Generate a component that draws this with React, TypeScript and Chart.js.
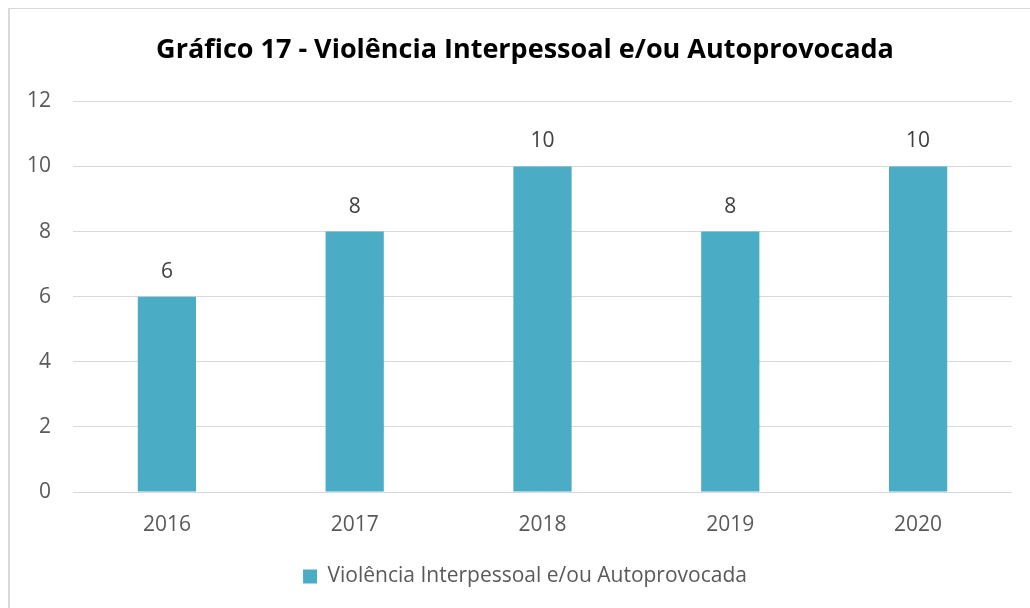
import React, { useEffect, useRef } from "react";
import { Chart, registerables } from "chart.js";

Chart.register(...registerables);

const categories = ["2016", "2017", "2018", "2019", "2020"];
const seriesName = "Violência Interpessoal e/ou Autoprovocada";
const seriesValues = [6, 8, 10, 8, 10];
const yTicks = [0, 2, 4, 6, 8, 10, 12];
const titleText = "Gráfico 17 - Violência Interpessoal e/ou Autoprovocada";

const FONT = "'Open Sans', sans-serif";
const BAR_COLOR = "#4BACC6";

const dataLabels = {
  id: "dataLabels",
  afterDatasetsDraw(chart: any) {
    const ctx = chart.ctx;
    const meta = chart.getDatasetMeta(0);
    ctx.save();
    ctx.font = `21px ${FONT}`;
    ctx.fillStyle = "#404040";
    ctx.textAlign = "center";
    ctx.textBaseline = "middle";
    meta.data.forEach((el: any, i: number) => {
      ctx.fillText(String(seriesValues[i]), el.x, el.y - 25);
    });
    ctx.restore();
  },
};

export default function App() {
  const ref = useRef<HTMLCanvasElement>(null);
  useEffect(() => {
    if (!ref.current) return;
    const chart = new Chart(ref.current, {
      type: "bar",
      data: {
        labels: categories,
        datasets: [
          {
            label: seriesName,
            data: seriesValues,
            backgroundColor: BAR_COLOR,
            borderWidth: 0,
            categoryPercentage: 1,
            barPercentage: 0.31,
          },
        ],
      },
      options: {
        animation: false,
        responsive: false,
        maintainAspectRatio: false,
        layout: { padding: { left: 0, right: 0, top: 0, bottom: 11 } },
        plugins: {
          title: {
            display: true,
            text: titleText,
            color: "#000000",
            font: { family: FONT, size: 27, weight: "bold" },
            padding: { top: 25, bottom: 35 },
          },
          legend: {
            display: true,
            position: "bottom",
            labels: {
              color: "#595959",
              font: { family: FONT, size: 21 },
              boxWidth: 14,
              boxHeight: 14,
              padding: 10,
            },
          },
          tooltip: { enabled: false },
        },
        scales: {
          x: {
            grid: { display: false, drawTicks: false },
            border: { display: false },
            ticks: {
              color: "#595959",
              font: { family: FONT, size: 21 },
              padding: 20,
            },
            afterFit(scale: any) {
              scale.height = 64;
            },
          },
          y: {
            min: 0,
            max: 12,
            afterBuildTicks(scale: any) {
              scale.ticks = yTicks.map((v) => ({ value: v }));
            },
            grid: { color: "#D9D9D9", lineWidth: 1, drawTicks: false },
            border: { display: false },
            ticks: {
              color: "#595959",
              font: { family: FONT, size: 21 },
              padding: 22,
            },
            afterFit(scale: any) {
              scale.width = 63;
            },
          },
          yRight: {
            type: "linear",
            position: "right",
            min: 0,
            max: 12,
            grid: { display: false, drawTicks: false },
            border: { display: false },
            ticks: { display: false },
            afterFit(scale: any) {
              scale.width = 28;
            },
          },
        },
      },
      plugins: [dataLabels],
    });
    return () => chart.destroy();
  }, []);

  return (
    <div
      style={{
        position: "absolute",
        left: 8,
        top: 8,
        width: 1021,
        height: 600,
        borderTop: "1px solid #D9D9D9",
        borderLeft: "2px solid #D9D9D9",
        background: "#fff",
        overflow: "hidden",
      }}
    >
      <canvas ref={ref} width={1030} height={599} style={{ display: "block" }} />
    </div>
  );
}
